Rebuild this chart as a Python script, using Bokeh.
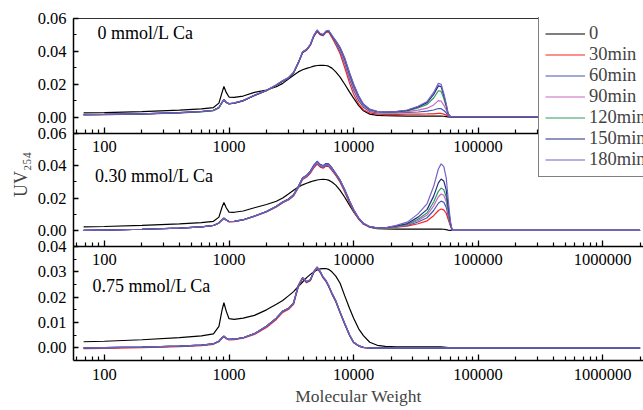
from bokeh.plotting import figure
from bokeh.models import (ColumnDataSource, Range1d, FixedTicker, NumeralTickFormatter,
                          LogAxis, LinearAxis, Legend, LegendItem, Label)
from bokeh.layouts import column
from bokeh.embed import file_html
from bokeh.resources import INLINE

FONT = "Liberation Serif"

series = ["0", "30min", "60min", "90min", "120min", "150min", "180min"]
colors = ["#000000", "#ff1f1f", "#4157b2", "#c866c0", "#2e9b5f", "#202a80", "#7563c4"]
panel_titles = ["0 mmol/L Ca", "0.30 mmol/L Ca", "0.75 mmol/L Ca"]
y_title = "UV\u2082\u2085\u2084"
x_title = "Molecular Weight"

x_major = [100, 1000, 10000, 100000, 1000000]
x_minor = [60, 70, 80, 90,
           200, 300, 400, 500, 600, 700, 800, 900,
           2000, 3000, 4000, 5000, 6000, 7000, 8000, 9000,
           20000, 30000, 40000, 50000, 60000, 70000, 80000, 90000,
           200000, 300000, 400000, 500000, 600000, 700000, 800000, 900000,
           2000000]
y_major_top = [0.0, 0.02, 0.04, 0.06]
y_minor_top = [0.01, 0.03, 0.05]
y_major_bot = [0.0, 0.01, 0.02, 0.03, 0.04]
y_minor_bot = [0.005, 0.015, 0.025, 0.035]

mw = [68, 100, 200, 400, 600, 750, 830, 880, 910, 950,
      1000, 1100, 1300, 1600, 2000, 2400, 2700, 3000, 3300, 3600,
      3900, 4200, 4500, 4800, 5100, 5400, 5700, 6000, 6300, 6700,
      7200, 7800, 8500, 9300, 10000, 11000, 12000, 13500, 15500, 18000,
      22000, 27000, 33000, 39000, 44000, 48000, 50500, 53000, 55500, 57500,
      60000, 62000, 100000, 1000000, 2000000]

# ---- 0 mmol/L Ca ----
top_0 = [0.0025, 0.0027, 0.0033, 0.0042, 0.0050, 0.0058, 0.0085, 0.0150, 0.0186, 0.0150,
         0.0122, 0.0120, 0.0128, 0.0150, 0.0165, 0.0185, 0.0205, 0.0232, 0.0255, 0.0275,
         0.0288, 0.0296, 0.0303, 0.0310, 0.0314, 0.0315, 0.0315, 0.0314, 0.0310, 0.0298,
         0.0275, 0.0243, 0.0200, 0.0152, 0.0115, 0.0070, 0.0038, 0.0018, 0.0010, 0.0008,
         0.0007, 0.0006, 0.0006, 0.0006, 0.0006, 0.0006, 0.0006, 0.0005, 0.0003, 0.0001,
         0.0000, 0.0000, 0.0000, 0.0000, 0.0000]
top_30 = [0.0014, 0.0015, 0.0019, 0.0026, 0.0033, 0.0040, 0.0057, 0.0089, 0.0104, 0.0089,
          0.0080, 0.0084, 0.0099, 0.0131, 0.0161, 0.0194, 0.0219, 0.0237, 0.0268, 0.0327,
          0.0392, 0.0407, 0.0436, 0.0490, 0.0520, 0.0500, 0.0495, 0.0515, 0.0518, 0.0485,
          0.0440, 0.0385, 0.0300, 0.0205, 0.0140, 0.0080, 0.0045, 0.0025, 0.0018, 0.0016,
          0.0017, 0.0018, 0.0018, 0.0019, 0.0020, 0.0022, 0.0022, 0.0018, 0.0012, 0.0005,
          0.0003, 0.0002, 0.0002, 0.0002, 0.0002]
top_60 = [0.0015, 0.0016, 0.0020, 0.0027, 0.0034, 0.0041, 0.0058, 0.0090, 0.0106, 0.0090,
          0.0081, 0.0085, 0.0100, 0.0132, 0.0162, 0.0195, 0.0220, 0.0238, 0.0270, 0.0330,
          0.0395, 0.0410, 0.0440, 0.0495, 0.0526, 0.0504, 0.0499, 0.0519, 0.0523, 0.0492,
          0.0450, 0.0400, 0.0325, 0.0230, 0.0165, 0.0100, 0.0060, 0.0034, 0.0026, 0.0025,
          0.0026, 0.0028, 0.0031, 0.0036, 0.0043, 0.0052, 0.0051, 0.0040, 0.0026, 0.0009,
          0.0003, 0.0002, 0.0002, 0.0002, 0.0002]
top_90 = [0.0015, 0.0016, 0.0020, 0.0027, 0.0034, 0.0041, 0.0058, 0.0090, 0.0106, 0.0090,
          0.0081, 0.0085, 0.0100, 0.0132, 0.0162, 0.0195, 0.0221, 0.0239, 0.0271, 0.0332,
          0.0397, 0.0412, 0.0442, 0.0497, 0.0529, 0.0507, 0.0502, 0.0522, 0.0527, 0.0497,
          0.0455, 0.0410, 0.0338, 0.0245, 0.0180, 0.0112, 0.0068, 0.0040, 0.0030, 0.0028,
          0.0029, 0.0033, 0.0042, 0.0054, 0.0074, 0.0100, 0.0098, 0.0073, 0.0044, 0.0013,
          0.0003, 0.0002, 0.0002, 0.0002, 0.0002]
top_120 = [0.0013, 0.0014, 0.0018, 0.0025, 0.0032, 0.0039, 0.0056, 0.0088, 0.0104, 0.0088,
           0.0080, 0.0084, 0.0099, 0.0131, 0.0161, 0.0194, 0.0220, 0.0238, 0.0270, 0.0330,
           0.0395, 0.0410, 0.0440, 0.0495, 0.0527, 0.0505, 0.0500, 0.0520, 0.0525, 0.0495,
           0.0460, 0.0418, 0.0350, 0.0258, 0.0192, 0.0122, 0.0075, 0.0044, 0.0033, 0.0030,
           0.0031, 0.0038, 0.0055, 0.0077, 0.0116, 0.0160, 0.0156, 0.0114, 0.0064, 0.0017,
           0.0003, 0.0002, 0.0002, 0.0002, 0.0002]
top_150 = [0.0015, 0.0016, 0.0020, 0.0027, 0.0034, 0.0041, 0.0058, 0.0090, 0.0106, 0.0090,
           0.0081, 0.0085, 0.0100, 0.0132, 0.0162, 0.0195, 0.0220, 0.0238, 0.0270, 0.0330,
           0.0395, 0.0410, 0.0440, 0.0495, 0.0527, 0.0505, 0.0500, 0.0520, 0.0525, 0.0495,
           0.0462, 0.0422, 0.0356, 0.0265, 0.0198, 0.0127, 0.0078, 0.0046, 0.0034, 0.0031,
           0.0033, 0.0041, 0.0062, 0.0088, 0.0138, 0.0190, 0.0185, 0.0134, 0.0074, 0.0019,
           0.0003, 0.0002, 0.0002, 0.0002, 0.0002]
top_180 = [0.0015, 0.0016, 0.0020, 0.0027, 0.0034, 0.0041, 0.0058, 0.0090, 0.0106, 0.0090,
           0.0082, 0.0086, 0.0101, 0.0133, 0.0163, 0.0196, 0.0222, 0.0240, 0.0272, 0.0333,
           0.0398, 0.0412, 0.0443, 0.0498, 0.0530, 0.0508, 0.0503, 0.0523, 0.0528, 0.0498,
           0.0465, 0.0425, 0.0360, 0.0270, 0.0203, 0.0130, 0.0080, 0.0048, 0.0035, 0.0032,
           0.0034, 0.0043, 0.0066, 0.0095, 0.0150, 0.0205, 0.0200, 0.0145, 0.0080, 0.0020,
           0.0003, 0.0002, 0.0002, 0.0002, 0.0002]

# ---- 0.30 mmol/L Ca ----
mid_0 = [0.0022, 0.0024, 0.0031, 0.0040, 0.0048, 0.0056, 0.0082, 0.0145, 0.0172, 0.0140,
         0.0113, 0.0112, 0.0120, 0.0140, 0.0160, 0.0180, 0.0200, 0.0225, 0.0248, 0.0268,
         0.0282, 0.0292, 0.0300, 0.0307, 0.0312, 0.0315, 0.0316, 0.0315, 0.0311, 0.0300,
         0.0280, 0.0248, 0.0205, 0.0155, 0.0115, 0.0072, 0.0042, 0.0020, 0.0011, 0.0009,
         0.0008, 0.0008, 0.0008, 0.0008, 0.0008, 0.0008, 0.0008, 0.0007, 0.0004, 0.0002,
         0.0000, 0.0000, 0.0000, 0.0000, 0.0000]
mid_30 = [0.0000, 0.0002, 0.0007, 0.0014, 0.0022, 0.0030, 0.0046, 0.0065, 0.0075, 0.0064,
          0.0053, 0.0054, 0.0064, 0.0086, 0.0114, 0.0145, 0.0171, 0.0188, 0.0213, 0.0262,
          0.0315, 0.0330, 0.0354, 0.0388, 0.0410, 0.0392, 0.0385, 0.0398, 0.0396, 0.0372,
          0.0340, 0.0298, 0.0238, 0.0168, 0.0118, 0.0068, 0.0038, 0.0020, 0.0014, 0.0014,
          0.0020, 0.0026, 0.0041, 0.0059, 0.0091, 0.0123, 0.0132, 0.0127, 0.0106, 0.0068,
          0.0027, 0.0000, 0.0000, 0.0000, 0.0000]
mid_60 = [0.0000, 0.0002, 0.0007, 0.0014, 0.0022, 0.0030, 0.0046, 0.0065, 0.0075, 0.0064,
          0.0054, 0.0055, 0.0065, 0.0087, 0.0115, 0.0147, 0.0173, 0.0190, 0.0216, 0.0265,
          0.0318, 0.0333, 0.0358, 0.0393, 0.0416, 0.0397, 0.0390, 0.0403, 0.0401, 0.0377,
          0.0344, 0.0304, 0.0244, 0.0174, 0.0124, 0.0072, 0.0041, 0.0021, 0.0015, 0.0015,
          0.0022, 0.0030, 0.0052, 0.0078, 0.0123, 0.0168, 0.0181, 0.0174, 0.0144, 0.0090,
          0.0032, 0.0000, 0.0000, 0.0000, 0.0000]
mid_90 = [0.0000, 0.0002, 0.0007, 0.0014, 0.0022, 0.0030, 0.0046, 0.0065, 0.0075, 0.0064,
          0.0054, 0.0055, 0.0065, 0.0088, 0.0116, 0.0148, 0.0175, 0.0192, 0.0218, 0.0268,
          0.0322, 0.0337, 0.0362, 0.0398, 0.0422, 0.0402, 0.0395, 0.0408, 0.0406, 0.0382,
          0.0348, 0.0308, 0.0248, 0.0178, 0.0127, 0.0074, 0.0042, 0.0022, 0.0015, 0.0015,
          0.0023, 0.0034, 0.0061, 0.0095, 0.0152, 0.0208, 0.0225, 0.0217, 0.0179, 0.0110,
          0.0036, 0.0000, 0.0000, 0.0000, 0.0000]
mid_120 = [0.0000, 0.0002, 0.0007, 0.0014, 0.0022, 0.0030, 0.0046, 0.0065, 0.0075, 0.0064,
           0.0055, 0.0056, 0.0066, 0.0089, 0.0117, 0.0149, 0.0176, 0.0193, 0.0220, 0.0271,
           0.0325, 0.0340, 0.0366, 0.0402, 0.0426, 0.0406, 0.0399, 0.0412, 0.0410, 0.0386,
           0.0350, 0.0310, 0.0250, 0.0180, 0.0128, 0.0075, 0.0043, 0.0022, 0.0015, 0.0015,
           0.0025, 0.0037, 0.0069, 0.0109, 0.0176, 0.0242, 0.0262, 0.0252, 0.0208, 0.0126,
           0.0040, 0.0000, 0.0000, 0.0000, 0.0000]
mid_150 = [0.0000, 0.0002, 0.0007, 0.0014, 0.0022, 0.0030, 0.0046, 0.0065, 0.0075, 0.0064,
           0.0055, 0.0056, 0.0066, 0.0089, 0.0117, 0.0149, 0.0176, 0.0194, 0.0221, 0.0272,
           0.0326, 0.0341, 0.0367, 0.0404, 0.0428, 0.0408, 0.0401, 0.0414, 0.0412, 0.0388,
           0.0351, 0.0311, 0.0251, 0.0181, 0.0129, 0.0075, 0.0043, 0.0022, 0.0016, 0.0016,
           0.0027, 0.0042, 0.0082, 0.0130, 0.0212, 0.0294, 0.0318, 0.0306, 0.0251, 0.0151,
           0.0045, 0.0000, 0.0000, 0.0000, 0.0000]
mid_180 = [0.0000, 0.0002, 0.0007, 0.0014, 0.0022, 0.0030, 0.0046, 0.0065, 0.0075, 0.0064,
           0.0055, 0.0056, 0.0066, 0.0089, 0.0117, 0.0149, 0.0176, 0.0193, 0.0220, 0.0270,
           0.0324, 0.0339, 0.0365, 0.0401, 0.0425, 0.0405, 0.0398, 0.0411, 0.0409, 0.0385,
           0.0352, 0.0312, 0.0252, 0.0182, 0.0130, 0.0076, 0.0044, 0.0023, 0.0016, 0.0016,
           0.0031, 0.0051, 0.0102, 0.0166, 0.0273, 0.0380, 0.0412, 0.0396, 0.0325, 0.0194,
           0.0055, 0.0000, 0.0000, 0.0000, 0.0000]

# ---- 0.75 mmol/L Ca ----
bot_0 = [0.0024, 0.0026, 0.0032, 0.0040, 0.0047, 0.0055, 0.0085, 0.0150, 0.0178, 0.0145,
         0.0115, 0.0112, 0.0117, 0.0128, 0.0150, 0.0172, 0.0187, 0.0205, 0.0222, 0.0242,
         0.0260, 0.0277, 0.0290, 0.0300, 0.0307, 0.0312, 0.0313, 0.0313, 0.0310, 0.0300,
         0.0283, 0.0255, 0.0205, 0.0155, 0.0118, 0.0075, 0.0048, 0.0022, 0.0010, 0.0006,
         0.0004, 0.0004, 0.0004, 0.0004, 0.0004, 0.0004, 0.0004, 0.0003, 0.0002, 0.0001,
         0.0000, 0.0000, 0.0000, 0.0000, 0.0000]
bot_30 = [-0.0003, -0.0002, 0.0001, 0.0005, 0.0009, 0.0014, 0.0024, 0.0038, 0.0044, 0.0036,
          0.0031, 0.0032, 0.0038, 0.0053, 0.0080, 0.0112, 0.0140, 0.0151, 0.0172, 0.0240,
          0.0273, 0.0257, 0.0265, 0.0297, 0.0314, 0.0297, 0.0275, 0.0262, 0.0242, 0.0212,
          0.0182, 0.0137, 0.0092, 0.0048, 0.0020, 0.0007, 0.0001, -0.0001, -0.0001, -0.0001,
          -0.0001, -0.0001, -0.0001, -0.0001, -0.0001, -0.0001, -0.0001, -0.0001, -0.0001, -0.0001,
          -0.0001, -0.0001, -0.0001, -0.0001, -0.0001]
bot_60 = [0.0000, 0.0001, 0.0003, 0.0007, 0.0011, 0.0016, 0.0026, 0.0040, 0.0046, 0.0038,
          0.0033, 0.0034, 0.0040, 0.0056, 0.0085, 0.0117, 0.0145, 0.0155, 0.0177, 0.0245,
          0.0276, 0.0260, 0.0268, 0.0300, 0.0317, 0.0300, 0.0278, 0.0265, 0.0245, 0.0215,
          0.0185, 0.0140, 0.0095, 0.0050, 0.0022, 0.0008, 0.0002, 0.0000, 0.0000, 0.0000,
          0.0000, 0.0000, 0.0000, 0.0000, 0.0000, 0.0000, 0.0000, 0.0000, 0.0000, 0.0000,
          0.0000, 0.0000, 0.0000, 0.0000, 0.0000]
bot_90 = [0.0000, 0.0001, 0.0003, 0.0007, 0.0011, 0.0016, 0.0026, 0.0040, 0.0046, 0.0038,
          0.0033, 0.0034, 0.0040, 0.0056, 0.0085, 0.0117, 0.0145, 0.0155, 0.0177, 0.0246,
          0.0278, 0.0262, 0.0270, 0.0303, 0.0321, 0.0303, 0.0280, 0.0267, 0.0247, 0.0217,
          0.0186, 0.0141, 0.0096, 0.0051, 0.0022, 0.0008, 0.0002, 0.0000, 0.0000, 0.0000,
          0.0000, 0.0000, 0.0000, 0.0000, 0.0000, 0.0000, 0.0000, 0.0000, 0.0000, 0.0000,
          0.0000, 0.0000, 0.0000, 0.0000, 0.0000]
bot_120 = [0.0000, 0.0001, 0.0003, 0.0007, 0.0011, 0.0016, 0.0026, 0.0040, 0.0046, 0.0038,
           0.0033, 0.0034, 0.0040, 0.0056, 0.0085, 0.0117, 0.0145, 0.0155, 0.0177, 0.0245,
           0.0276, 0.0260, 0.0268, 0.0300, 0.0317, 0.0300, 0.0278, 0.0265, 0.0245, 0.0215,
           0.0185, 0.0140, 0.0095, 0.0050, 0.0022, 0.0008, 0.0002, 0.0000, 0.0000, 0.0000,
           0.0000, 0.0000, 0.0000, 0.0000, 0.0000, 0.0000, 0.0000, 0.0000, 0.0000, 0.0000,
           0.0000, 0.0000, 0.0000, 0.0000, 0.0000]
bot_150 = [0.0000, 0.0001, 0.0003, 0.0007, 0.0011, 0.0016, 0.0026, 0.0040, 0.0046, 0.0038,
           0.0033, 0.0034, 0.0040, 0.0056, 0.0085, 0.0117, 0.0145, 0.0155, 0.0177, 0.0245,
           0.0276, 0.0260, 0.0268, 0.0300, 0.0317, 0.0300, 0.0278, 0.0265, 0.0245, 0.0215,
           0.0185, 0.0140, 0.0095, 0.0050, 0.0022, 0.0008, 0.0002, 0.0000, 0.0000, 0.0000,
           0.0000, 0.0000, 0.0000, 0.0000, 0.0000, 0.0000, 0.0000, 0.0000, 0.0000, 0.0000,
           0.0000, 0.0000, 0.0000, 0.0000, 0.0000]
bot_180 = [0.0000, 0.0001, 0.0003, 0.0007, 0.0011, 0.0016, 0.0026, 0.0040, 0.0046, 0.0038,
           0.0033, 0.0034, 0.0040, 0.0056, 0.0085, 0.0117, 0.0145, 0.0155, 0.0177, 0.0245,
           0.0277, 0.0261, 0.0269, 0.0301, 0.0318, 0.0301, 0.0279, 0.0266, 0.0246, 0.0216,
           0.0186, 0.0141, 0.0096, 0.0051, 0.0023, 0.0008, 0.0002, 0.0000, 0.0000, 0.0000,
           0.0000, 0.0000, 0.0000, 0.0000, 0.0000, 0.0000, 0.0000, 0.0000, 0.0000, 0.0000,
           0.0000, 0.0000, 0.0000, 0.0000, 0.0000]

top_curves = [top_0, top_30, top_60, top_90, top_120, top_150, top_180]
mid_curves = [mid_0, mid_30, mid_60, mid_90, mid_120, mid_150, mid_180]
bot_curves = [bot_0, bot_30, bot_60, bot_90, bot_120, bot_150, bot_180]
for grp in (top_curves, mid_curves, bot_curves):
    for c in grp:
        assert len(c) == len(mw), len(c)

X_RANGE = (56.4, 2.13e6)
W = 643
TICK_FS = "16.5px"


def style_axis(ax, major_in, minor_in, standoff):
    ax.axis_line_width = 1.5
    ax.axis_line_color = "black"
    ax.major_tick_in = major_in
    ax.major_tick_out = 0
    ax.minor_tick_in = minor_in
    ax.minor_tick_out = 0
    ax.major_tick_line_width = 1.3
    ax.minor_tick_line_width = 1.2
    ax.major_tick_line_color = "black"
    ax.minor_tick_line_color = "black"
    ax.major_label_text_font = FONT
    ax.major_label_text_font_size = TICK_FS
    ax.major_label_text_color = "black"
    ax.major_label_standoff = standoff


def add_curves(p, curves, visible=True):
    data = {"mw": mw}
    for i, c in enumerate(curves):
        data["s%d" % i] = c
    src = ColumnDataSource(data)
    rends = []
    for i, col in enumerate(colors):
        r = p.line("mw", "s%d" % i, source=src, line_color=col, line_width=1.2)
        r.visible = visible
        rends.append(r)
    return rends


def base_fig(height, b_top, b_bottom, y_lo, y_hi, axes=True):
    kw = {}
    if not axes:
        kw = dict(x_axis_location=None, y_axis_location=None)
    p = figure(width=W, height=height, x_axis_type="log",
               x_range=Range1d(*X_RANGE), y_range=Range1d(y_lo, y_hi),
               output_backend="svg", toolbar_location=None,
               min_border_left=73, min_border_right=0,
               min_border_top=b_top, min_border_bottom=b_bottom, **kw)
    p.background_fill_color = None
    p.border_fill_color = None
    p.outline_line_color = None
    p.xgrid.visible = False
    p.ygrid.visible = False
    return p


def make_panel(height, b_top, b_bottom, y_lo, y_hi, ymaj, ymin, curves, title, tx, ty, xstand):
    p = base_fig(height, b_top, b_bottom, y_lo, y_hi)
    rends = add_curves(p, curves)
    xa = p.xaxis[0]
    xa.ticker = FixedTicker(ticks=x_major, minor_ticks=x_minor)
    xa.formatter = NumeralTickFormatter(format="0")
    style_axis(xa, 6, 4, xstand)
    ya = p.yaxis[0]
    ya.ticker = FixedTicker(ticks=ymaj, minor_ticks=ymin)
    ya.formatter = NumeralTickFormatter(format="0.00")
    style_axis(ya, 5, 3, 7)
    p.add_layout(Label(x=tx, y=ty, text=title, text_font=FONT, text_font_size="18px",
                       text_baseline="middle", text_align="left", text_color="black"))
    return p, rends


# frames: top 18-133, middle 133-246, bottom 246-360 (page pixels)
p1, r1 = make_panel(160, 18, 27, -0.01, 0.06, y_major_top, y_minor_top,
                    top_curves, panel_titles[0], 88, 0.0509, 7)
p2, r2 = make_panel(150, 10, 27, -0.01, 0.06, y_major_top, y_minor_top,
                    mid_curves, panel_titles[1], 84, 0.0336, 7)
p3, r3 = make_panel(174, 10, 50, -0.005, 0.04, y_major_bot, y_minor_bot,
                    bot_curves, panel_titles[2], 80, 0.0246, 8)

top_ax = LogAxis(ticker=FixedTicker(ticks=[]), major_tick_in=0, major_tick_out=0,
                 minor_tick_in=0, minor_tick_out=0, axis_line_width=1,
                 axis_line_color="#333333")
p1.add_layout(top_ax, "above")

p3.xaxis[0].axis_label = x_title
p3.xaxis[0].axis_label_text_font = FONT
p3.xaxis[0].axis_label_text_font_size = "17.5px"
p3.xaxis[0].axis_label_text_font_style = "normal"
p3.xaxis[0].axis_label_standoff = 3

# legend overlay: an axis-less copy of the top panel (same scale) whose frame reaches y=179
p0 = base_fig(179, 17, 0, -0.0374, 0.0606, axes=False)
r0 = add_curves(p0, top_curves, visible=False)
legend = Legend(items=[LegendItem(label=s, renderers=[r]) for s, r in zip(series, r0)],
                location=(465, 2), label_text_font=FONT, label_text_font_size="18.5px",
                glyph_width=40, glyph_height=21, label_height=21, spacing=0,
                padding=6, margin=0, label_standoff=4,
                border_line_color="black", border_line_width=1,
                background_fill_color="white", background_fill_alpha=1.0)
p0.add_layout(legend)

# y title overlay: a frame covering y=133..215 so the title is centred where the reference has it
p4 = base_fig(82, 0, 0, 0, 1, axes=False)
title_ax = LinearAxis(ticker=FixedTicker(ticks=[]), axis_line_color=None,
                      major_tick_in=0, major_tick_out=0, minor_tick_in=0, minor_tick_out=0,
                      major_label_standoff=0, axis_label=y_title,
                      axis_label_text_font=FONT, axis_label_text_font_size="18px",
                      axis_label_text_font_style="normal", axis_label_standoff=43)
p4.add_layout(title_ax, "left")

p2.margin = (-37, 0, 0, 0)
p3.margin = (-37, 0, 0, 0)
p0.margin = (-410, 0, 0, 0)
p4.margin = (-46, 0, 0, 0)

layout = column(p1, p2, p3, p0, p4)

open("out.html", "w").write(file_html(layout, INLINE))
